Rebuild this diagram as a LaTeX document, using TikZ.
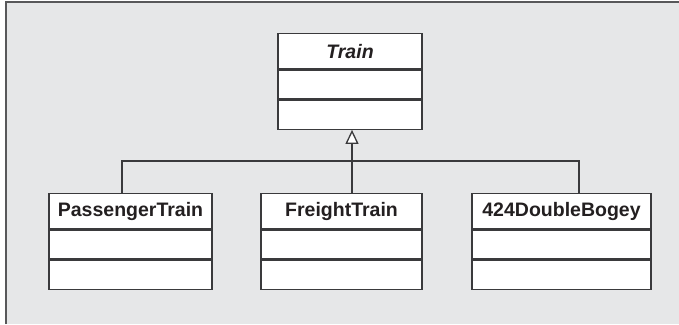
\documentclass[tikz,border=0pt]{standalone}
\usepackage{fontspec}
\setmainfont{Liberation Sans}
\usetikzlibrary{arrows.meta, positioning}
\definecolor{cline}{HTML}{3A3A3C}
\definecolor{ctext}{HTML}{231F20}
\definecolor{cbg}{HTML}{E6E7E8}
\definecolor{cframe}{HTML}{58585A}
\tikzset{
  every picture/.style={line width=1.3pt},
  head/.style={draw=cline, fill=white, minimum width=#1, minimum height=35pt, inner sep=0pt,
               text=ctext, font=\fontsize{19.5}{22}\selectfont\bfseries},
  part/.style={draw=cline, fill=white, minimum width=#1, minimum height=29pt, inner sep=0pt},
  link/.style={draw=cline, line width=1.3pt},
  inherit/.style={link, -{Triangle[length=14pt, width=13pt, fill=white]}},
}
\begin{document}
\begin{tikzpicture}[x=1pt, y=-1pt]
  \useasboundingbox (0,0) rectangle (679,324);
  \fill[cbg] (5.5,1.5) rectangle (679,324);
  \draw[cframe, line width=2pt] (5.5,324) -- (5.5,1.5) -- (679,1.5);
  % base class
  \node[head=144pt, anchor=north] (train) at (350,33) {\itshape Train};
  \node[part=144pt, below=0pt of train] (train a) {};
  \node[part=144pt, below=0pt of train a] (train b) {};
  % subclasses
  \node[head=163pt, anchor=north] (pass) at (130.5,193) {PassengerTrain};
  \node[part=163pt, below=0pt of pass] (pass a) {};
  \node[part=163pt, below=0pt of pass a] (pass b) {};
  \node[head=161pt, anchor=north] (freight) at (341.5,193) {FreightTrain};
  \node[part=161pt, below=0pt of freight] (freight a) {};
  \node[part=161pt, below=0pt of freight a] (freight b) {};
  \node[head=179pt, anchor=north] (bogey) at (561.5,193) {424DoubleBogey};
  \node[part=179pt, below=0pt of bogey] (bogey a) {};
  \node[part=179pt, below=0pt of bogey a] (bogey b) {};
  % generalization
  \coordinate (join) at (352,161);
  \draw[link] ([xshift=-8.5pt]pass.north) |- (join) -| ([xshift=17.5pt]bogey.north);
  \draw[link] ([xshift=10.5pt]freight.north) -- (join);
  \draw[inherit] (join) -- (join |- train b.south);
\end{tikzpicture}
\end{document}
